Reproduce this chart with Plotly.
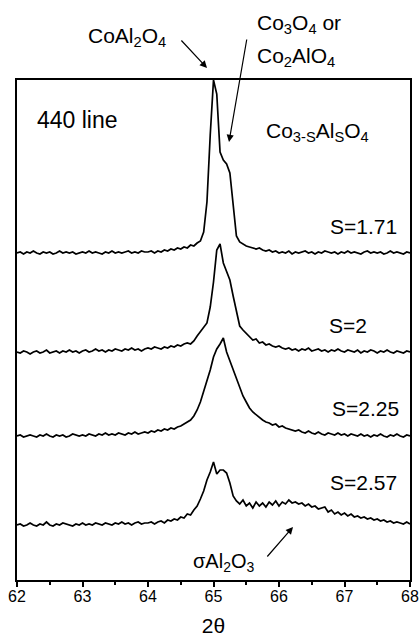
import plotly.graph_objects as go

# 2-theta scan grid (deg), step 0.05 from 62 to 68
two_theta = [round(62 + 0.05 * i, 2) for i in range(121)]

# Intensities (arbitrary units, each curve already offset for stacking)
s_171 = [327, 328, 326, 328, 327, 329, 327, 326, 328, 327,
         328, 326, 327, 329, 327, 328, 327, 328, 326, 327,
         328, 327, 329, 327, 328, 327, 326, 328, 327, 329,
         327, 328, 327, 328, 329, 327, 328, 327, 329, 328,
         328, 329, 327, 329, 328, 330, 329, 331, 330, 332,
         331,
         333, 332, 335, 334, 337, 339, 348, 378, 445, 500,
         486, 428, 420, 416, 407, 372, 344, 338, 336, 334,
         333, 332, 331, 332, 330, 329, 330, 328, 329, 327,
         328, 327, 329, 326, 328, 327, 328, 329, 327, 328,
         326, 328, 327, 329, 328, 327, 328, 326, 328, 327,
         329, 327, 328, 327, 326, 328, 329, 327, 328, 327,
         328, 326, 327, 329, 327, 328, 327, 326, 328, 327]

s_200 = [228, 227, 229, 228, 226, 228, 229, 227, 228, 230,
         227, 228, 229, 227, 229, 228, 230, 228, 229, 227,
         229, 230, 228, 229, 231, 229, 230, 228, 230, 229,
         231, 230, 229, 231, 230, 232, 230, 231, 229, 231,
         232, 231, 233, 232, 231, 233, 232, 234, 233, 235,
         234, 236, 237, 236, 239, 244, 248, 252, 257, 273,
         298, 330, 336, 317, 308, 300, 284, 268, 254, 250,
         247, 244, 240, 241, 237, 238, 235, 236, 234, 233,
         234, 232,
         231, 232, 230, 231, 229, 231, 230, 232, 229, 230,
         231, 229, 230, 228, 230, 229, 231, 229, 228, 230,
         229, 228, 230, 227, 229, 228, 230, 229, 227, 229,
         228, 230, 228, 227, 229, 228, 227, 229, 228]

s_225 = [144, 145, 143, 144, 145, 144, 143, 145, 144, 146,
         144, 143, 145, 144, 145, 143, 144, 146, 145, 144,
         145, 144, 146, 145, 144, 146, 145, 147, 145, 146,
         145, 147, 146, 145, 147, 146, 148, 146, 147, 148,
         147, 149, 148, 150, 149, 151, 150, 152, 151, 153,
         154, 156, 158, 160, 164, 170, 178, 188, 199, 210,
         223, 231, 236, 242, 228, 219, 209, 201, 192, 184,
         178, 172, 168, 165, 163, 160, 158, 157, 155, 156,
         153, 154, 152, 151, 150,
         149, 150, 148, 147, 149, 147, 146, 148, 146, 145,
         147, 146, 145, 147, 145, 146, 144, 146, 145, 144,
         146, 144, 145, 143, 145, 144, 146, 144, 143, 145,
         144, 146, 144, 143, 145, 144]

s_257 = [55, 56, 54, 55, 57, 55, 54, 56, 55, 58,
         55, 54, 56, 55, 57, 56, 55, 54, 56, 55,
         57, 55, 56, 55, 57, 56, 55, 57, 56, 55,
         57, 56, 58, 56, 57, 55, 57, 58, 56, 57,
         57, 58, 56, 58, 59, 57, 60, 59, 61, 60,
         63, 62, 66, 65, 70, 74, 81, 89, 100, 108,
         118, 106, 110, 110, 107, 97, 84, 79, 76, 80,
         74, 77, 72, 78, 74, 77, 73, 78, 75, 79,
         74, 78, 76, 80, 77, 78, 76, 77, 74, 76,
         73, 74, 71, 72, 73, 68, 70, 66, 68, 65,
         67, 64, 66, 63, 64, 62, 63, 61, 62, 60,
         61, 59, 60, 58, 59, 57, 58, 57, 56, 58,
         56]

series = [("S=1.71", s_171), ("S=2", s_200), ("S=2.25", s_225), ("S=2.57", s_257)]
for name, ys in series:
    assert len(ys) == len(two_theta), (name, len(ys))

x_ticks = [62, 63, 64, 65, 66, 67, 68]

FONT = "Liberation Sans, Arial, sans-serif"

fig = go.Figure()
for name, ys in series:
    fig.add_trace(go.Scatter(x=two_theta, y=ys, mode="lines", name=name,
                             line=dict(color="black", width=1.7), showlegend=False))

# plot area in page pixels: x 17..410, y 80..580
def pxp(px):
    return (px - 17) / 393.0

def pyp(py):
    return (580 - py) / 500.0

ann = []
def text(t, px, py, size, anchor="left"):
    ann.append(dict(text=t, x=pxp(px), y=pyp(py), xref="paper", yref="paper",
                    showarrow=False, xanchor=anchor, yanchor="middle",
                    font=dict(size=size, color="black", family=FONT)))

def arrow(tip_px, tip_py, tail_px, tail_py):
    ann.append(dict(text="", x=pxp(tip_px), y=pyp(tip_py), xref="paper", yref="paper",
                    showarrow=True, ax=tail_px - tip_px, ay=tail_py - tip_py,
                    arrowhead=2, arrowsize=1.2, arrowwidth=1.2, arrowcolor="black",
                    standoff=0, startstandoff=0))

text("440 line", 35, 120, 23)
text("Co<sub>3-S</sub>Al<sub>S</sub>O<sub>4</sub>", 264, 132, 21)
text("CoAl<sub>2</sub>O<sub>4</sub>", 86, 37, 21)
text("Co<sub>3</sub>O<sub>4</sub> or", 255, 24, 21)
text("Co<sub>2</sub>AlO<sub>4</sub>", 255, 57, 21)
text("S=1.71", 399, 226, 21, "right")
text("S=2", 369, 325, 21, "right")
text("S=2.25", 401, 408, 21, "right")
text("S=2.57", 399, 482, 21, "right")
text("σAl<sub>2</sub>O<sub>3</sub>", 191, 562, 20)

arrow(207, 68, 180, 39)
arrow(229, 142, 247, 38)
arrow(293, 527, 266, 558)

fig.update_layout(
    width=419, height=637,
    margin=dict(l=17, r=9, t=80, b=57, autoexpand=False),
    paper_bgcolor="white", plot_bgcolor="white",
    font=dict(family=FONT, color="black"),
    annotations=ann,
    xaxis=dict(range=[62, 68], tickvals=x_ticks, ticktext=[str(v) for v in x_ticks],
               ticks="outside", ticklen=5, tickwidth=1.5, tickcolor="black",
               minor=dict(dtick=0.5, tick0=62, ticks="outside", ticklen=3,
                          tickwidth=1.5, tickcolor="black"),
               showline=True, linewidth=2, linecolor="black", mirror=True,
               showgrid=False, zeroline=False, automargin=False,
               ticklabelstandoff=-4,
               tickfont=dict(size=16, family=FONT),
               title=dict(text="2θ", font=dict(size=21, family=FONT), standoff=22)),
    yaxis=dict(range=[0, 500], showticklabels=False, ticks="", automargin=False,
               showline=True, linewidth=2, linecolor="black", mirror=True,
               showgrid=False, zeroline=False),
)

fig.write_html("out.html")
